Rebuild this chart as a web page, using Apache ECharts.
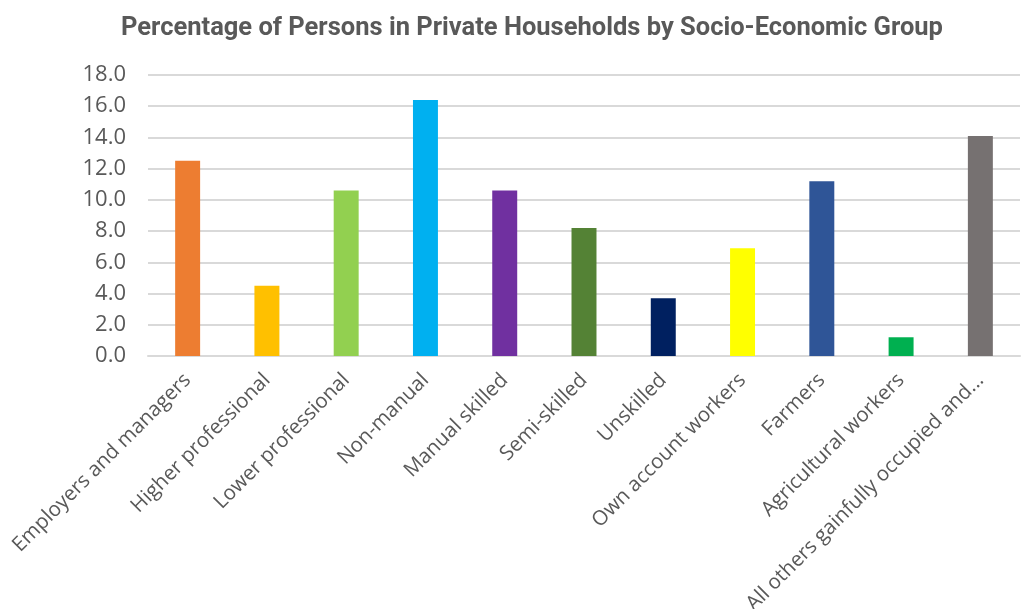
<!DOCTYPE html>
<html>
<head>
<meta charset="utf-8">
<script src="https://cdn.jsdelivr.net/npm/echarts@6/dist/echarts.min.js"></script>
<style>
html,body{margin:0;padding:0;background:#fff;}
#chart{width:1022px;height:609px;}
</style>
</head>
<body>
<div id="chart"></div>
<script>
const categories = [
  "Employers and managers",
  "Higher professional",
  "Lower professional",
  "Non-manual",
  "Manual skilled",
  "Semi-skilled",
  "Unskilled",
  "Own account workers",
  "Farmers",
  "Agricultural workers",
  "All others gainfully occupied and..."
];
const values = [12.5, 4.5, 10.6, 16.4, 10.6, 8.2, 3.7, 6.9, 11.2, 1.2, 14.1];
const barColors = ["#ED7D31", "#FFC000", "#92D050", "#00B0F0", "#7030A0", "#548235", "#002060", "#FFFF00", "#2F5597", "#00B050", "#767171"];
const titleText = "Percentage of Persons in Private Households by Socio-Economic Group";

const chart = echarts.init(document.getElementById('chart'));
chart.setOption({
  animation: false,
  backgroundColor: '#ffffff',
  title: {
    text: titleText,
    left: 116,
    top: 11,
    textStyle: {
      fontFamily: '"Liberation Sans Narrow", "Roboto", sans-serif',
      fontSize: 25.5,
      fontWeight: 'bold',
      color: '#595959'
    }
  },
  grid: { left: 148, right: 2, top: 75, bottom: 253, containLabel: false, outerBoundsMode: 'none' },
  xAxis: {
    type: 'category',
    data: categories,
    axisLine: { show: true, lineStyle: { color: '#D9D9D9', width: 2 } },
    axisTick: { show: false },
    axisLabel: {
      rotate: 45,
      interval: 0,
      margin: 21,
      fontFamily: '"Open Sans", sans-serif',
      fontSize: 20.5,
      color: '#595959'
    }
  },
  yAxis: {
    type: 'value',
    min: 0,
    max: 18,
    interval: 2,
    axisLine: { show: false },
    axisTick: { show: false },
    splitLine: { lineStyle: { color: '#D9D9D9', width: 2 } },
    axisLabel: {
      margin: 22,
      fontFamily: '"Open Sans", sans-serif',
      fontSize: 22,
      color: '#595959',
      formatter: v => v.toFixed(1)
    }
  },
  series: [{
    type: 'bar',
    data: values.map((v, i) => ({ value: v, itemStyle: { color: barColors[i] } })),
    barWidth: '31.5%'
  }]
});
</script>
</body>
</html>
